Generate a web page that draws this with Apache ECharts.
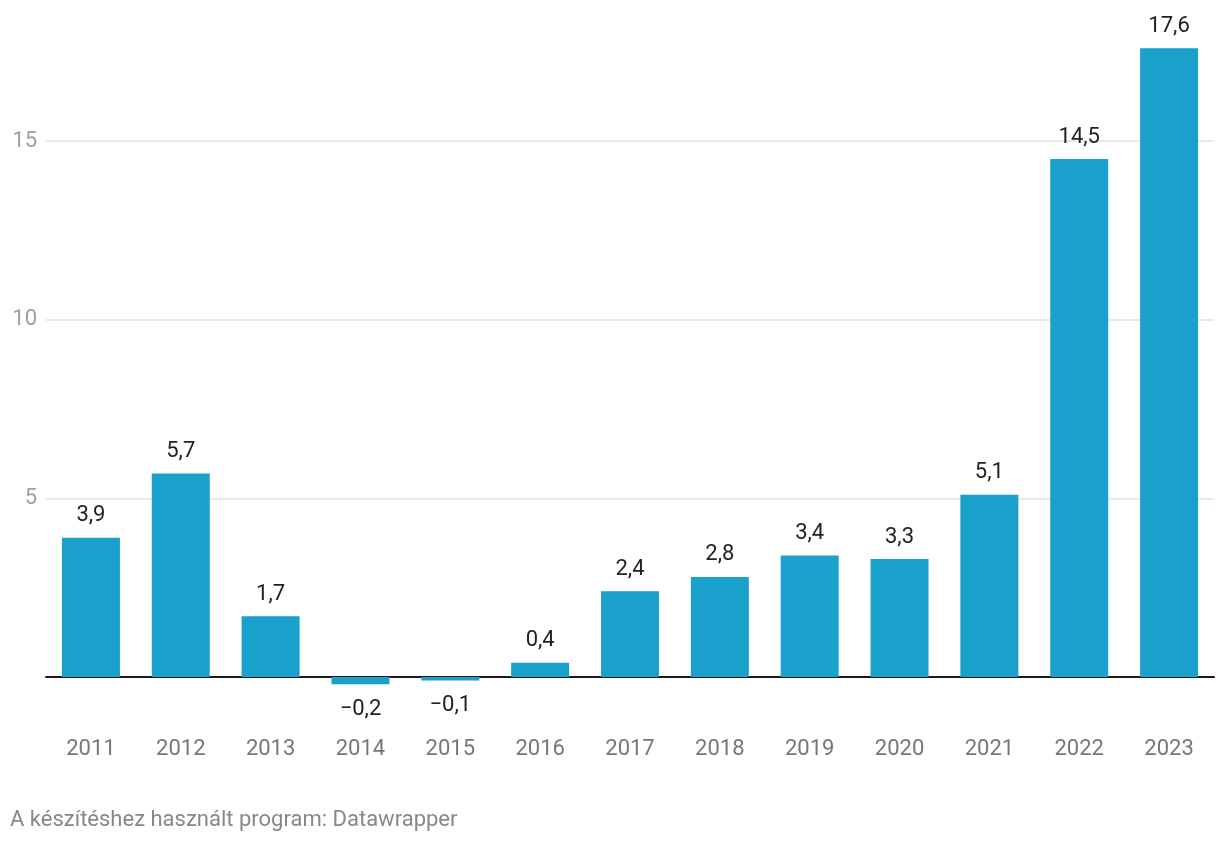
<!DOCTYPE html>
<html>
<head>
<meta charset="utf-8">
<script src="https://cdn.jsdelivr.net/npm/echarts@6/dist/echarts.min.js"></script>
<style>
html,body{margin:0;padding:0;background:#fff;}
#chart{width:1220px;height:844px;}
</style>
</head>
<body>
<div id="chart"></div>
<script>
const categories = ['2011','2012','2013','2014','2015','2016','2017','2018','2019','2020','2021','2022','2023'];
const values = [3.9, 5.7, 1.7, -0.2, -0.1, 0.4, 2.4, 2.8, 3.4, 3.3, 5.1, 14.5, 17.6];
const yTicks = [5, 10, 15];
const footerText = 'A készítéshez használt program: Datawrapper';

function fmt(v){
  const s = Math.abs(v).toFixed(1).replace('.', ',');
  return (v < 0 ? '\u2212' : '') + s;
}

const chart = echarts.init(document.getElementById('chart'));
chart.setOption({
  animation: false,
  grid: { left: 46, right: 6, top: 16.2, bottom: 131.3, containLabel: false, outerBoundsMode: 'none' },
  xAxis: {
    type: 'category',
    data: categories,
    axisLine: { show: true, onZero: true, lineStyle: { color: '#1a1a1a', width: 2 } },
    axisTick: { show: false },
    axisLabel: { margin: 26, color: '#777', fontSize: 22, fontFamily: 'Roboto' }
  },
  yAxis: {
    type: 'value',
    min: -1, max: 18.5,
    axisLine: { show: false },
    axisTick: { show: false },
    splitLine: { show: false },
    axisLabel: {
      customValues: yTicks,
      margin: 9, color: '#a0a0a0', fontSize: 22, fontFamily: 'Roboto'
    }
  },
  series: [{
    type: 'line',
    data: [],
    z: 1,
    silent: true,
    markLine: {
      z: 1,
      silent: true,
      symbol: 'none',
      label: { show: false },
      lineStyle: { color: '#e3e3e3', width: 1.5, type: 'solid' },
      data: yTicks.map(t => ({ yAxis: t }))
    }
  }, {
    type: 'bar',
    z: 3,
    data: values.map(v => ({
      value: v,
      label: { position: v < 0 ? 'bottom' : 'top', distance: v < 0 ? 14 : 11 }
    })),
    barWidth: 58,
    itemStyle: { color: '#19a1cc' },
    label: {
      show: true,
      color: '#222',
      fontSize: 22,
      fontFamily: 'Roboto',
      formatter: p => fmt(p.value)
    }
  }],
  graphic: [{
    type: 'text',
    left: 10,
    top: 809,
    style: { text: footerText, fill: '#888', fontSize: 22, fontFamily: 'Roboto' }
  }]
});
</script>
</body>
</html>
